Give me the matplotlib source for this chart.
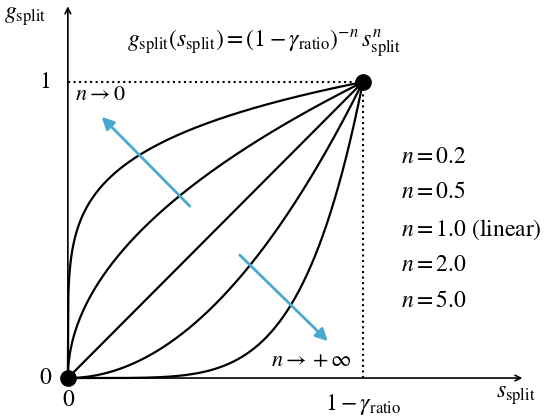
import numpy as np
import matplotlib.pyplot as plt

plt.rcParams['mathtext.fontset'] = 'stix'
plt.rcParams['font.family'] = 'STIXGeneral'

exponents = [0.2, 0.5, 1.0, 2.0, 5.0]
labels = ['$n = 0.2$', '$n = 0.5$', '$n = 1.0$ (linear)', '$n = 2.0$', '$n = 5.0$']

fig = plt.figure(figsize=(5.6, 4.18), dpi=100)
ax = fig.add_axes([0, 0, 1, 1])
ax.set_xlim(-0.23, 1.668)
ax.set_ylim(-0.135, 1.277)
ax.axis('off')

s = np.linspace(0, 1, 600)
for n in exponents:
    ax.plot(s, s ** n, color='black', lw=1.6)

ax.plot([0, 1], [1, 1], ':', color='black', lw=1.5)
ax.plot([1, 1], [0, 1], ':', color='black', lw=1.5)
ax.plot([0, 1], [0, 1], 'o', color='black', ms=11, zorder=5)

ax.annotate('', xy=(1.55, 0), xytext=(0, 0),
            arrowprops=dict(arrowstyle='->', color='black', lw=1.2))
ax.annotate('', xy=(0, 1.265), xytext=(0, 0),
            arrowprops=dict(arrowstyle='->', color='black', lw=1.2))

blue = '#4aa8d0'
ax.annotate('', xy=(0.108, 0.889), xytext=(0.42, 0.574),
            arrowprops=dict(arrowstyle='-|>', color=blue, lw=2, mutation_scale=18))
ax.annotate('', xy=(0.888, 0.118), xytext=(0.576, 0.422),
            arrowprops=dict(arrowstyle='-|>', color=blue, lw=2, mutation_scale=18))

fs = 17
ax.text(0.665, 1.13, r'$g_{\rm split}(s_{\rm split}) = (1-\gamma_{\rm ratio})^{-n}\, s_{\rm split}^{n}$',
        fontsize=fs, ha='center', va='center')
ax.text(-0.215, 1.22, r'$g_{\rm split}$', fontsize=fs, ha='left', va='center')
ax.text(1.45, -0.06, r'$s_{\rm split}$', fontsize=fs, ha='left', va='center')
ax.text(0, -0.075, '0', fontsize=fs, ha='center', va='center')
ax.text(-0.075, 0, '0', fontsize=fs, ha='center', va='center')
ax.text(-0.075, 1.0, '1', fontsize=fs, ha='center', va='center')
ax.text(1.0, -0.09, r'$1-\gamma_{\rm ratio}$', fontsize=fs, ha='center', va='center')
ax.text(0.025, 0.955, r'$n \rightarrow 0$', fontsize=fs - 1, ha='left', va='center')
ax.text(0.69, 0.055, r'$n \rightarrow +\infty$', fontsize=fs - 1, ha='left', va='center')

ys = [0.746, 0.628, 0.5, 0.38, 0.26]
for y, lab in zip(ys, labels):
    ax.text(1.129, y, lab, fontsize=fs, ha='left', va='center')

fig.savefig('out.png')
